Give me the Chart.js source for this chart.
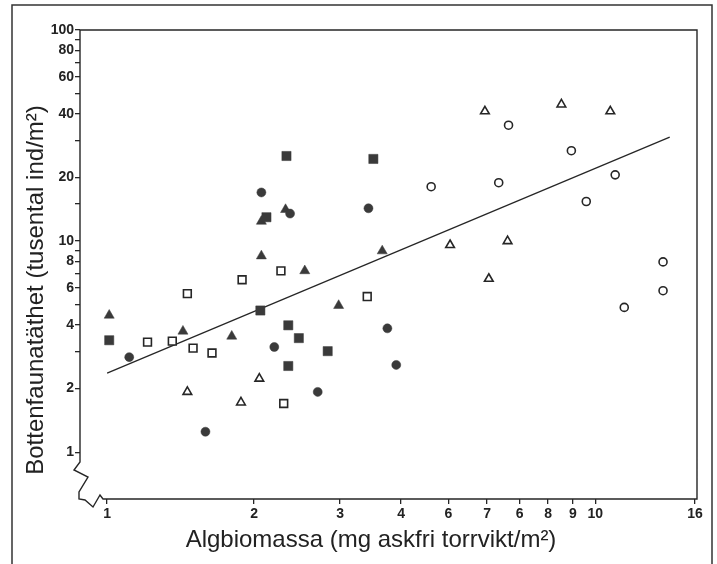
<!DOCTYPE html>
<html>
<head>
<meta charset="utf-8">
<script src="https://cdn.jsdelivr.net/npm/chart.js@4.4.1/dist/chart.umd.min.js"></script>
<style>
  html, body { margin: 0; padding: 0; background: #fff; }
  canvas { display: block; }
</style>
</head>
<body>
<canvas id="myChart" width="717" height="564"></canvas>
<script>
// Data

const filledSquareX = [1.01, 2.06, 2.35, 2.47, 2.35, 2.83, 2.33, 2.12, 3.51];
const filledSquareY = [3.39, 4.69, 3.99, 3.47, 2.56, 3.01, 25.3, 12.97, 24.5];

const filledCircleX = [1.11, 2.07, 2.37, 2.20, 1.59, 2.70, 3.43, 3.75, 3.91];
const filledCircleY = [2.82, 17.0, 13.5, 3.15, 1.25, 1.93, 14.3, 3.86, 2.59];

const filledTriX = [1.01, 1.43, 1.80, 2.07, 2.07, 2.32, 2.54, 2.98, 3.66];
const filledTriY = [4.45, 3.74, 3.54, 8.5, 12.4, 14.1, 7.23, 4.95, 8.98];

const openSquareX = [1.21, 1.36, 1.50, 1.64, 1.46, 1.89, 2.27, 2.30, 3.41];
const openSquareY = [3.32, 3.36, 3.11, 2.95, 5.64, 6.56, 7.23, 1.70, 5.46];

const openTriX = [1.46, 1.88, 2.05, 5.94, 8.52, 10.73, 5.04, 6.61, 6.05];
const openTriY = [1.93, 1.72, 2.23, 41.2, 44.4, 41.2, 9.58, 10.0, 6.63];

const openCircleX = [4.61, 6.64, 6.34, 8.93, 9.58, 10.98, 13.76, 13.76, 11.46];
const openCircleY = [18.1, 35.4, 18.9, 26.8, 15.4, 20.6, 7.97, 5.82, 4.85];

// regression line end points
const fitX = [1.0, 14.2];
const fitY = [2.37, 31.1];

// axis ticks (labels as printed in the figure)
const xTickValues = [1, 2, 3, 4, 5, 6, 7, 8, 9, 10, 16];
const xTickLabels = ['1', '2', '3', '4', '6', '7', '6', '8', '9', '10', '16'];
const yTickValues = [1, 2, 3, 4, 5, 6, 7, 8, 9, 10, 15, 20, 30, 40, 50, 60, 70, 80, 90, 100];
const yTickLabels = ['1', '2', '', '4', '', '6', '', '8', '', '10', '', '20', '', '40', '', '60', '', '80', '', '100'];

const xTitle = 'Algbiomassa (mg askfri torrvikt/m²)';
const yTitle = 'Bottenfaunatäthet (tusental ind/m²)';

const ink = '#262626';

function pts(xs, ys) {
    return xs.map((x, i) => ({ x: x, y: ys[i] }));
}

function filled(data, style, r) {
    return { data: data, pointStyle: style, pointRadius: r, backgroundColor: '#3a3a3a', borderColor: '#3a3a3a', borderWidth: 0.5 };
}

function open(data, style, r) {
    return { data: data, pointStyle: style, pointRadius: r, backgroundColor: '#fff', borderColor: ink, borderWidth: 1.6 };
}

// frame, broken axes and axis titles
const framePlugin = {
    id: 'frame',
    afterDraw(chart) {
        const ctx = chart.ctx;
        const a = chart.chartArea;
        const y1 = chart.scales.y.getPixelForValue(1);
        ctx.save();
        ctx.strokeStyle = '#333';
        ctx.lineWidth = 1.5;
        ctx.beginPath();
        ctx.moveTo(12, 564);
        ctx.lineTo(12, 5);
        ctx.lineTo(712, 5);
        ctx.lineTo(712, 564);
        ctx.stroke();

        ctx.strokeStyle = ink;
        ctx.lineWidth = 1.4;
        ctx.beginPath();
        ctx.moveTo(a.left, y1 + 6);
        ctx.lineTo(a.left, a.top);
        ctx.lineTo(a.right, a.top);
        ctx.lineTo(a.right, a.bottom);
        ctx.lineTo(a.left + 23, a.bottom);
        ctx.lineTo(a.left + 20, a.bottom - 4);
        ctx.lineTo(a.left + 13, a.bottom + 8);
        ctx.lineTo(a.left + 5, a.bottom + 1);
        ctx.lineTo(a.left - 1, a.bottom);
        ctx.lineTo(a.left - 1, a.bottom - 7);
        ctx.lineTo(a.left + 8, a.bottom - 22);
        ctx.lineTo(a.left - 6, a.bottom - 29);
        ctx.lineTo(a.left, a.bottom - 37);
        ctx.lineTo(a.left, y1 + 5);
        ctx.stroke();

        ctx.fillStyle = '#222';
        ctx.font = '24px "Liberation Sans", Arial, sans-serif';
        ctx.textAlign = 'center';
        ctx.textBaseline = 'alphabetic';
        ctx.fillText(xTitle, 371, 547);
        ctx.translate(43, 290);
        ctx.rotate(-Math.PI / 2);
        ctx.fillText(yTitle, 0, 0);
        ctx.restore();
    }
};

const tickFont = { family: '"Liberation Sans", Arial, sans-serif', size: 14, weight: 'bold' };

const config = {
    type: 'scatter',
    data: {
        datasets: [
            filled(pts(filledSquareX, filledSquareY), 'rect', 6.5),
            filled(pts(filledCircleX, filledCircleY), 'circle', 4.5),
            filled(pts(filledTriX, filledTriY), 'triangle', 5.8),
            open(pts(openSquareX, openSquareY), 'rect', 5.5),
            open(pts(openTriX, openTriY), 'triangle', 5),
            open(pts(openCircleX, openCircleY), 'circle', 4),
            {
                type: 'line',
                data: pts(fitX, fitY),
                showLine: true,
                pointRadius: 0,
                borderColor: ink,
                borderWidth: 1.3,
                fill: false
            }
        ]
    },
    options: {
        responsive: false,
        animation: false,
        devicePixelRatio: 1,
        layout: { padding: { top: 30, right: 20, left: 0, bottom: 0 } },
        plugins: {
            legend: { display: false },
            tooltip: { enabled: false }
        },
        scales: {
            x: {
                type: 'logarithmic',
                min: 0.88,
                max: 16.15,
                border: { display: false },
                grid: { drawOnChartArea: false, color: ink, lineWidth: 1.3, tickLength: 5 },
                ticks: {
                    autoSkip: false,
                    maxRotation: 0,
                    padding: 2,
                    color: '#222',
                    font: tickFont,
                    callback: (v, i) => xTickLabels[i]
                },
                afterBuildTicks: (scale) => {
                    scale.ticks = xTickValues.map(v => ({ value: v }));
                },
                afterFit: (scale) => { scale.height = 65; }
            },
            y: {
                type: 'logarithmic',
                min: 0.628,
                max: 100,
                border: { display: false },
                grid: { drawOnChartArea: false, color: ink, lineWidth: 1.3, tickLength: 5 },
                ticks: {
                    autoSkip: false,
                    padding: 1,
                    color: '#222',
                    font: tickFont,
                    callback: (v, i) => yTickLabels[i]
                },
                afterBuildTicks: (scale) => {
                    scale.ticks = yTickValues.map(v => ({ value: v }));
                },
                afterFit: (scale) => { scale.width = 80; }
            }
        }
    },
    plugins: [framePlugin]
};

var myChart = new Chart(document.getElementById('myChart'), config);
</script>
</body>
</html>
